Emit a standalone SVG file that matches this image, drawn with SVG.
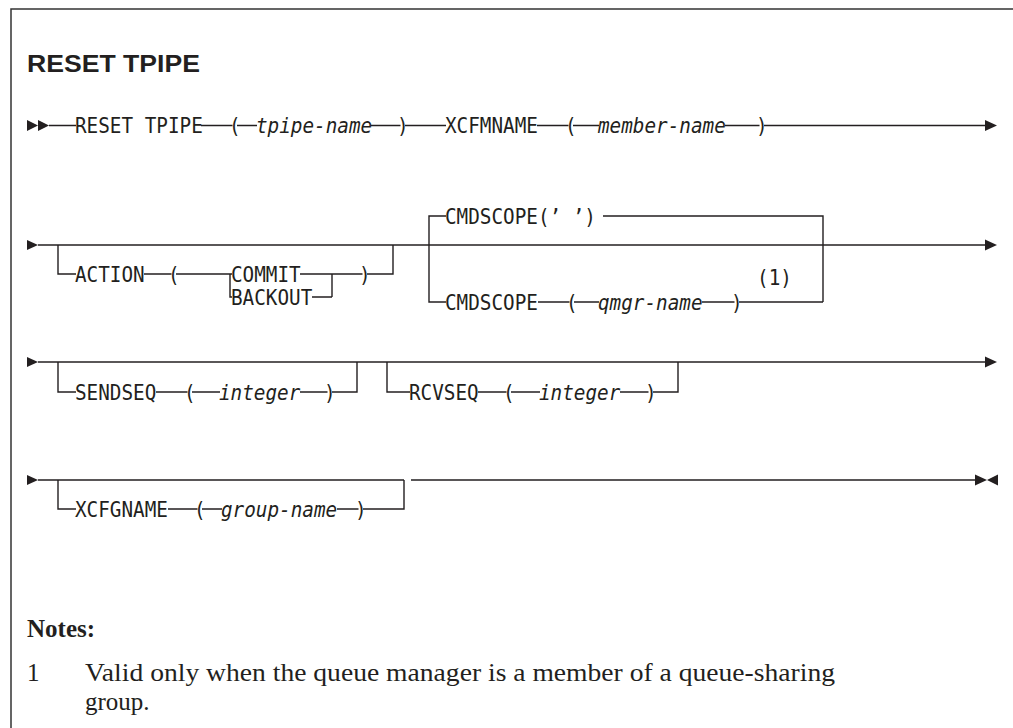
<svg xmlns="http://www.w3.org/2000/svg" width="1013" height="728" viewBox="0 0 1013 728">
<style>
  .kw { font-family: "DejaVu Sans Mono", "Liberation Mono", monospace; font-size: 21px; fill: #231f20; }
  .var { font-family: "DejaVu Sans Mono", "Liberation Mono", monospace; font-size: 21px; font-style: italic; fill: #231f20; }
  .rail { fill: none; stroke: #231f20; stroke-width: 1.4; }
  .arr { fill: #231f20; }
  .title { font-family: "Liberation Sans", Arial, sans-serif; font-weight: bold; font-size: 24px; fill: #231f20; }
  .note { font-family: "Liberation Serif", "Times New Roman", serif; font-size: 25px; fill: #231f20; }
  .noteh { font-family: "Liberation Serif", "Times New Roman", serif; font-size: 25px; font-weight: bold; fill: #231f20; }
</style>
<rect x="0" y="0" width="1013" height="728" fill="#ffffff"/>
<rect x="11" y="9" width="1010" height="730" fill="none" stroke="#333333" stroke-width="1.5"/>

<text class="title" x="27" y="72" textLength="173" lengthAdjust="spacingAndGlyphs">RESET TPIPE</text>

<g id="connectors">
  <!-- row 1 -->
  <path class="rail" d="M49 125.5H76 M201 125.5H232.5 M237 125.5H257 M371 125.5H400.5 M405 125.5H446 M537 125.5H568.5 M573 125.5H599 M725 125.5H759.5 M764 125.5H986"/>
  <!-- row 2 main -->
  <path class="rail" d="M38 245H986"/>
  <!-- ACTION branch -->
  <path class="rail" d="M58 245V274H76 M144 274H171.5 M176 274H232 M300 274H332V297 M230 274V297H232 M312 297H332 M332 274H362.5 M367 274H393V245"/>
  <!-- CMDSCOPE group -->
  <path class="rail" d="M446 216H429V302H446 M603 216H823V302 M538 302H569.5 M574 302H599 M702 302H734.5 M739 302H823"/>
  <!-- row 3 -->
  <path class="rail" d="M38 362H986"/>
  <path class="rail" d="M58 362V392H76 M156 392H187.5 M192 392H220 M300 392H327.5 M332 392H357V362"/>
  <path class="rail" d="M387 362V392H410 M478 392H506.5 M511 392H540 M620 392H648.5 M653 392H678V362"/>
  <!-- row 4 -->
  <path class="rail" d="M38 480H404 M411 480H976"/>
  <path class="rail" d="M58 480V509H76 M168 509H197.5 M202 509H222 M337 509H358.5 M363 509H404V480"/>
  <!-- arrowheads -->
  <polygon class="arr" points="27,120 38,125.5 27,131"/>
  <polygon class="arr" points="38,120 49,125.5 38,131"/>
  <polygon class="arr" points="985,120 997,125.5 985,131"/>
  <polygon class="arr" points="27,240 38,245 27,250"/>
  <polygon class="arr" points="985,239.5 997,245 985,250.5"/>
  <polygon class="arr" points="27,357 38,362 27,367"/>
  <polygon class="arr" points="985,356.5 997,362 985,367.5"/>
  <polygon class="arr" points="27,475 38,480 27,485"/>
  <polygon class="arr" points="975,474.5 987,480 975,485.5"/>
  <polygon class="arr" points="998,474.5 987,480 998,485.5"/>
</g>

<g id="reset-tpipe"><text class="kw" x="75" y="133" textLength="127.8" lengthAdjust="spacingAndGlyphs">RESET TPIPE</text></g>
<g id="tpipe-name-param">
  <text class="kw" x="229" y="133" textLength="11.6" lengthAdjust="spacingAndGlyphs">(</text>
  <text class="var" x="256" y="133" textLength="116.2" lengthAdjust="spacingAndGlyphs">tpipe-name</text>
  <text class="kw" x="397" y="133" textLength="11.6" lengthAdjust="spacingAndGlyphs">)</text>
</g>
<g id="xcfmname">
  <text class="kw" x="445" y="133" textLength="93" lengthAdjust="spacingAndGlyphs">XCFMNAME</text>
  <text class="kw" x="565" y="133" textLength="11.6" lengthAdjust="spacingAndGlyphs">(</text>
  <text class="var" x="598" y="133" textLength="127.8" lengthAdjust="spacingAndGlyphs">member-name</text>
  <text class="kw" x="756" y="133" textLength="11.6" lengthAdjust="spacingAndGlyphs">)</text>
</g>

<g id="action">
  <text class="kw" x="75" y="281.5" textLength="69.7" lengthAdjust="spacingAndGlyphs">ACTION</text>
  <text class="kw" x="168" y="281.5" textLength="11.6" lengthAdjust="spacingAndGlyphs">(</text>
  <text class="kw" x="359" y="281.5" textLength="11.6" lengthAdjust="spacingAndGlyphs">)</text>
</g>
<g id="commit"><text class="kw" x="231" y="281.5" textLength="69.7" lengthAdjust="spacingAndGlyphs">COMMIT</text></g>
<g id="backout"><text class="kw" x="231" y="304.5" textLength="81.3" lengthAdjust="spacingAndGlyphs">BACKOUT</text></g>

<g id="cmdscope-default"><text class="kw" x="445" y="223.5" textLength="151" lengthAdjust="spacingAndGlyphs">CMDSCOPE(’ ’)</text></g>
<g id="cmdscope-qmgr">
  <text class="kw" x="445" y="309.5" textLength="93" lengthAdjust="spacingAndGlyphs">CMDSCOPE</text>
  <text class="kw" x="566" y="309.5" textLength="11.6" lengthAdjust="spacingAndGlyphs">(</text>
  <text class="var" x="598" y="309.5" textLength="104.6" lengthAdjust="spacingAndGlyphs">qmgr-name</text>
  <text class="kw" x="731" y="309.5" textLength="11.6" lengthAdjust="spacingAndGlyphs">)</text>
  <text class="kw" x="757" y="284.5" textLength="34.9" lengthAdjust="spacingAndGlyphs">(1)</text>
</g>

<g id="sendseq">
  <text class="kw" x="75" y="399.5" textLength="81.3" lengthAdjust="spacingAndGlyphs">SENDSEQ</text>
  <text class="kw" x="184" y="399.5" textLength="11.6" lengthAdjust="spacingAndGlyphs">(</text>
  <text class="var" x="219" y="399.5" textLength="81.3" lengthAdjust="spacingAndGlyphs">integer</text>
  <text class="kw" x="324" y="399.5" textLength="11.6" lengthAdjust="spacingAndGlyphs">)</text>
</g>
<g id="rcvseq">
  <text class="kw" x="409" y="399.5" textLength="69.7" lengthAdjust="spacingAndGlyphs">RCVSEQ</text>
  <text class="kw" x="503" y="399.5" textLength="11.6" lengthAdjust="spacingAndGlyphs">(</text>
  <text class="var" x="539" y="399.5" textLength="81.3" lengthAdjust="spacingAndGlyphs">integer</text>
  <text class="kw" x="645" y="399.5" textLength="11.6" lengthAdjust="spacingAndGlyphs">)</text>
</g>

<g id="xcfgname">
  <text class="kw" x="75" y="516.5" textLength="93" lengthAdjust="spacingAndGlyphs">XCFGNAME</text>
  <text class="kw" x="194" y="516.5" textLength="11.6" lengthAdjust="spacingAndGlyphs">(</text>
  <text class="var" x="221" y="516.5" textLength="116.2" lengthAdjust="spacingAndGlyphs">group-name</text>
  <text class="kw" x="355" y="516.5" textLength="11.6" lengthAdjust="spacingAndGlyphs">)</text>
</g>

<g id="notes">
  <text class="noteh" x="27" y="637">Notes:</text>
  <text class="note" x="27" y="681">1</text>
  <text class="note" x="85" y="681" textLength="750" lengthAdjust="spacingAndGlyphs">Valid only when the queue manager is a member of a queue-sharing</text>
  <text class="note" x="85" y="710">group.</text>
</g>
</svg>
